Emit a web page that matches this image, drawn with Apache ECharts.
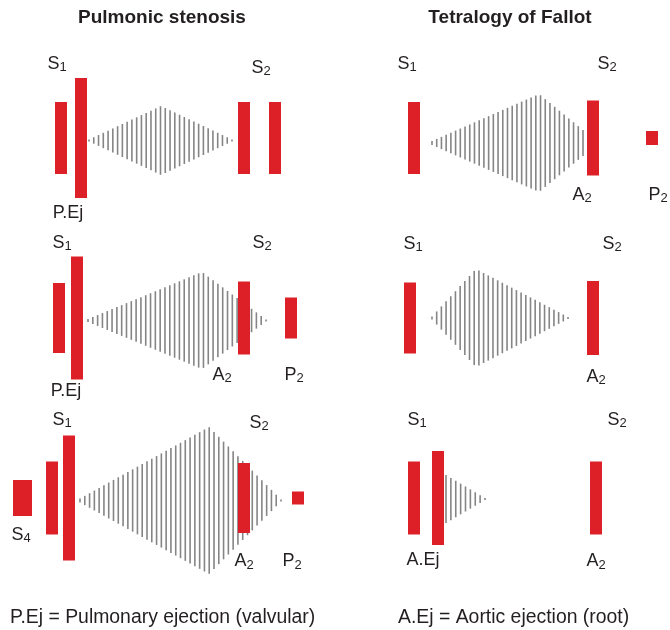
<!DOCTYPE html>
<html>
<head>
<meta charset="utf-8">
<script src="https://cdn.jsdelivr.net/npm/echarts@6/dist/echarts.min.js"></script>
<style>
  html, body { margin: 0; padding: 0; background: #fff; }
  #chart { width: 670px; height: 630px; }
</style>
</head>
<body>
<div id="chart"></div>
<script>
// column headings and footnotes
const columnTitles = ['Pulmonic stenosis', 'Tetralogy of Fallot'];
const footnotes = ['P.Ej = Pulmonary ejection (valvular)', 'A.Ej = Aortic ejection (root)'];

// heart sounds per strip: [name, start, end, amplitude]
const soundsPS1 = [['S1', 55, 67, 36], ['P.Ej', 75, 87, 60], ['A2', 238, 250, 36], ['P2', 269, 281, 36]];
const soundsTF1 = [['S1', 73, 85, 36], ['A2', 252, 264, 37.5], ['P2', 311, 323, 7]];
const soundsPS2 = [['S1', 53, 65, 35], ['P.Ej', 71, 83, 61.5], ['A2', 238, 250, 36.5], ['P2', 285, 297, 20.5]];
const soundsTF2 = [['S1', 69, 81, 35.5], ['A2', 252, 264, 37]];
const soundsPS3 = [['S4', 13, 32, 18], ['S1', 46, 58, 36.5], ['P.Ej', 63, 75, 62.5], ['A2', 238, 250, 35], ['P2', 292, 304, 6.5]];
const soundsTF3 = [['S1', 73, 85, 36.5], ['A.Ej', 97, 109, 47], ['A2', 255, 267, 36.5]];

// murmur envelopes: [time, amplitude]
const murmurPS1 = [[89, 1], [161, 34.5], [232, 1]];
const murmurTF1 = [[97, 2], [204, 49], [248, 13]];
const murmurPS2 = [[88, 1.5], [202, 48.5], [266, 1]];
const murmurTF2 = [[97, 1.5], [141, 49], [233, 1]];
const murmurPS3 = [[80, 2], [209, 73.5], [281, 1]];
const murmurTF3 = [[111, 24], [150, 1]];
const murmurBase = [-2.5, -5, -2.5, 0, -2.5, -1];

// labels: [letter, subscript, time, amplitude]
const labelsPS1 = [['S', '1', 57, 74], ['S', '2', 261, 70], ['P.Ej', '', 68, -75]];
const labelsTF1 = [['S', '1', 72, 74], ['S', '2', 272, 74], ['A', '2', 247, -57], ['P', '2', 323, -57]];
const labelsPS2 = [['S', '1', 62, 75], ['S', '2', 262, 75], ['A', '2', 222, -57], ['P', '2', 294, -57], ['P.Ej', '', 66, -73]];
const labelsTF2 = [['S', '1', 78, 74], ['S', '2', 277, 74], ['A', '2', 261, -59]];
const labelsPS3 = [['S', '1', 62, 78], ['S', '2', 259, 75], ['S', '4', 21, -37], ['A', '2', 244, -63.5], ['P', '2', 292, -63.5]];
const labelsTF3 = [['S', '1', 82, 78], ['S', '2', 282, 78], ['A.Ej', '', 88, -62.5], ['A', '2', 261, -63.5]];

const RED = '#dd2027';
const GRAY = '#858585';
const INK = '#231f20';
const FONT = '"Liberation Sans", Arial, Helvetica, sans-serif';

const sounds = [soundsPS1, soundsTF1, soundsPS2, soundsTF2, soundsPS3, soundsTF3];
const murmurs = [murmurPS1, murmurTF1, murmurPS2, murmurTF2, murmurPS3, murmurTF3];
const labels = [labelsPS1, labelsTF1, labelsPS2, labelsTF2, labelsPS3, labelsTF3];
const rowCenters = [138, 318, 498];

let chart = echarts.init(document.getElementById('chart'), null, { renderer: 'canvas' });

function ampAt(env, t) {
  for (let k = 0; k < env.length - 1; k++) {
    const a = env[k], b = env[k + 1];
    if (t >= a[0] && t <= b[0]) {
      return a[1] + (b[1] - a[1]) * (t - a[0]) / (b[0] - a[0]);
    }
  }
  return env[env.length - 1][1];
}

let grids = [], xAxes = [], yAxes = [], series = [];
for (let i = 0; i < 6; i++) {
  const col = i % 2, row = Math.floor(i / 2);
  grids.push({ left: col * 335, top: rowCenters[row] - 90, width: 335, height: 180 });
  xAxes.push({ gridIndex: i, type: 'value', min: 0, max: 335, show: false });
  yAxes.push({ gridIndex: i, type: 'value', min: -90, max: 90, show: false });

  // murmur: diamond / triangle envelope hatched with vertical strokes
  const env = murmurs[i];
  const base = murmurBase[i];
  series.push({
    type: 'custom',
    xAxisIndex: i,
    yAxisIndex: i,
    z: 1,
    silent: true,
    data: [[env[0][0], env[env.length - 1][0]]],
    renderItem(params, api) {
      const t0 = env[0][0], t1 = env[env.length - 1][0];
      const x0 = api.coord([t0, 0])[0], x1 = api.coord([t1, 0])[0];
      const n = Math.max(1, Math.round((x1 - x0) / 4.77));
      let children = [];
      for (let k = 0; k <= n; k++) {
        const t = t0 + (t1 - t0) * k / n;
        const a = ampAt(env, t);
        const px = x0 + (x1 - x0) * k / n;
        const top = api.coord([t, base + a])[1];
        const bot = api.coord([t, base - a])[1];
        children.push({
          type: 'line',
          shape: { x1: px, y1: top, x2: px, y2: bot },
          style: { stroke: GRAY, lineWidth: 1.6 }
        });
      }
      return { type: 'group', children: children };
    }
  });

  // sounds: red blocks
  series.push({
    type: 'custom',
    xAxisIndex: i,
    yAxisIndex: i,
    z: 3,
    silent: true,
    data: sounds[i].map(s => [s[1], s[2], s[3]]),
    renderItem(params, api) {
      const p0 = api.coord([api.value(0), api.value(2)]);
      const p1 = api.coord([api.value(1), -api.value(2)]);
      return {
        type: 'rect',
        shape: { x: p0[0], y: p0[1], width: p1[0] - p0[0], height: p1[1] - p0[1] },
        style: { fill: RED }
      };
    }
  });

  // sound names with subscripts
  const labs = labels[i];
  series.push({
    type: 'custom',
    xAxisIndex: i,
    yAxisIndex: i,
    z: 4,
    silent: true,
    data: labs.map(l => [l[2], l[3]]),
    renderItem(params, api) {
      const l = labs[params.dataIndex];
      const p = api.coord([api.value(0), api.value(1)]);
      const txt = l[1] ? '{m|' + l[0] + '}{s|' + l[1] + '}' : '{m|' + l[0] + '}';
      return {
        type: 'text',
        x: p[0],
        y: p[1],
        style: {
          text: txt,
          align: 'center',
          verticalAlign: 'middle',
          rich: {
            m: { fontSize: 18, fontFamily: FONT, fill: INK, lineHeight: 20 },
            s: { fontSize: 13, fontFamily: FONT, fill: INK, lineHeight: 20, padding: [7, 0, 0, 0] }
          }
        }
      };
    }
  });
}

chart.setOption({
  animation: false,
  grid: grids,
  xAxis: xAxes,
  yAxis: yAxes,
  series: series,
  graphic: [
    { type: 'text', x: 162, y: 18, style: { text: columnTitles[0], align: 'center', verticalAlign: 'middle', font: 'bold 19px ' + FONT, fill: INK } },
    { type: 'text', x: 510, y: 18, style: { text: columnTitles[1], align: 'center', verticalAlign: 'middle', font: 'bold 19px ' + FONT, fill: INK } },
    { type: 'text', x: 10, y: 618, style: { text: footnotes[0], align: 'left', verticalAlign: 'middle', font: '19.4px ' + FONT, fill: INK } },
    { type: 'text', x: 398, y: 618, style: { text: footnotes[1], align: 'left', verticalAlign: 'middle', font: '19.4px ' + FONT, fill: INK } }
  ]
});
</script>
</body>
</html>
